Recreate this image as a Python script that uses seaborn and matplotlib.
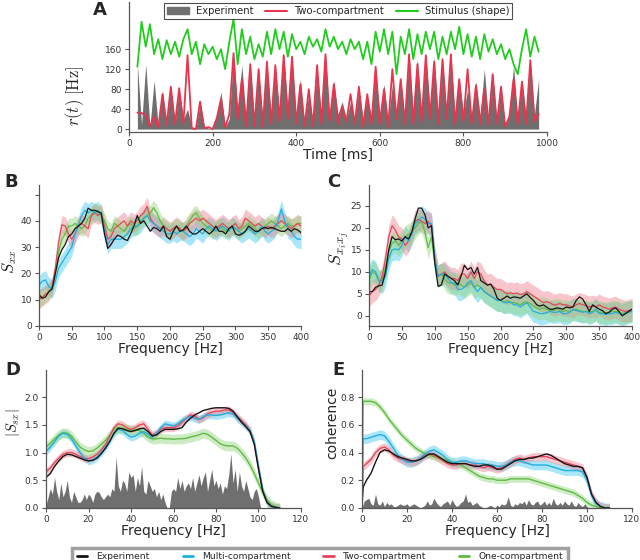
import numpy as np
import pandas as pd
import matplotlib
matplotlib.use("Agg")
import matplotlib.pyplot as plt
from matplotlib.lines import Line2D
from matplotlib.patches import Patch
import seaborn as sns

# ---------------- data: panel A (time course) ----------------
time_ms = np.arange(20, 990, 10)
rate_exp = [130, 10, 130, 5, 97, 5, 78, 10, 85, 10,
            80, 20, 40, 5, 0, 52, 5, 2, 0, 25,
            75, 5, 20, 150, 40, 128, 20, 130, 15, 120,
            20, 130, 25, 128, 30, 150, 40, 145, 25, 100,
            10, 72, 15, 120, 30, 150, 20, 98, 30, 55,
            20, 55, 15, 80, 20, 65, 25, 122, 30, 90,
            15, 90, 25, 100, 20, 150, 30, 140, 30, 150,
            40, 145, 20, 140, 30, 145, 20, 100, 30, 80,
            20, 95, 25, 120, 20, 110, 15, 85, 5, 30,
            128, 20, 100, 25, 137, 30, 100]
rate_two = [33, 32, 28, 5, 25, 3, 70, 8, 85, 10,
            82, 10, 148, 2, 0, 55, 2, 4, 0, 22,
            60, 3, 30, 152, 20, 100, 5, 130, 5, 120,
            5, 135, 10, 128, 15, 148, 20, 145, 10, 90,
            5, 80, 5, 128, 10, 150, 15, 90, 10, 45,
            15, 70, 10, 85, 5, 70, 10, 125, 10, 80,
            5, 120, 20, 100, 10, 150, 10, 130, 15, 148,
            20, 135, 10, 140, 20, 150, 10, 100, 15, 120,
            10, 88, 10, 80, 10, 110, 10, 85, 5, 25,
            100, 10, 95, 10, 138, 15, 30]
stimulus = [125, 215, 165, 210, 150, 180, 140, 178, 150, 175,
            145, 180, 200, 150, 175, 130, 170, 150, 165, 140,
            160, 120, 175, 220, 130, 200, 150, 185, 140, 170,
            145, 195, 150, 200, 160, 195, 145, 190, 160, 175,
            150, 185, 165, 180, 155, 200, 165, 185, 160, 175,
            150, 180, 160, 175, 140, 175, 130, 195, 155, 200,
            150, 195, 110, 185, 150, 200, 140, 190, 150, 195,
            160, 195, 140, 185, 150, 195, 160, 205, 150, 190,
            145, 185, 140, 190, 155, 180, 150, 170, 140, 160,
            130, 110, 160, 200, 145, 185, 155]

# ---------------- panel B: S_xx ----------------
freq_B = np.arange(0, 401, 5)
sxx_exp = [12, 10.5, 11, 13, 14, 20, 26, 29, 31, 34,
           35, 37, 38, 39, 41, 44.8, 44, 44, 43.5, 43,
           35, 29.5, 31, 33, 34.5, 34, 33, 32.5, 35, 38,
           42, 39, 40, 38, 36, 37.5, 37, 36, 38, 34,
           33, 36, 38, 36, 36.5, 38, 36, 35, 35, 36,
           37, 36, 35, 36, 38, 36, 36, 35, 37, 38,
           35, 34.5, 35, 36, 38, 37, 36, 36, 37, 37.5,
           37, 37.5, 37, 36.5, 36, 36, 37, 36, 37, 36.5,
           35.5]
sxx_multi = [15.5, 17, 17.5, 15, 14, 17, 22, 24, 26, 28,
             30, 35, 38, 42, 44, 43, 44, 43, 44, 42,
             36, 31, 33, 33, 33, 33, 34, 35, 37, 38,
             38, 39, 41, 42, 40, 39, 38, 37, 36, 35,
             35, 36, 35, 36, 36, 35, 34, 35, 37, 36,
             35, 37, 38, 37, 36, 37, 38, 37, 36, 38,
             37, 36, 35, 36, 37, 36, 35, 36, 38, 36,
             35, 36, 37, 40, 44.5, 40, 37, 36, 34, 33,
             33]
sxx_two = [10, 11, 12, 13, 15, 22, 32, 38.5, 38, 35,
           33, 35, 38, 39, 38, 37, 42, 43, 42, 43,
           38, 33, 34, 37, 38, 39, 40, 38, 40, 39,
           40, 42, 43, 45.5, 41, 39, 38, 37, 38, 37,
           36, 37, 38, 37, 36, 37, 39, 40, 41, 40,
           41, 40, 39, 38, 37, 38, 39, 38, 37, 38,
           39, 37, 38, 41, 40, 39, 38, 39, 38, 37,
           38, 37, 38, 39, 40, 39, 38, 37, 38, 39,
           38]
sxx_one = [10.5, 11, 12, 13, 15, 20, 28, 33, 35, 38,
           38, 39, 38, 37, 38, 41, 42, 44, 43, 42,
           40, 37, 36, 39, 38, 37, 36, 38, 39, 37,
           38, 40, 41, 42, 43, 45, 43, 40, 38, 37,
           36, 37, 38, 37, 36, 38, 40, 42, 43, 41,
           39, 38, 37, 36, 37, 38, 37, 36, 37, 38,
           37, 36, 37, 38, 39, 38, 37, 36, 37, 38,
           39, 40, 39, 38, 37, 38, 39, 38, 38, 39,
           39]

# ---------------- panel C: S_xixj ----------------
freq_C = np.arange(0, 401, 5)
sij_exp = [5.5, 5.5, 6.5, 6.8, 7, 10, 15, 18, 17.3, 17.5,
           17, 18, 17.5, 19, 22, 24.5, 24.5, 23, 20, 20.5,
           12, 6.7, 7, 9.5, 9, 8.5, 8, 7, 9, 11.5,
           10.5, 11, 9.5, 11, 8, 7.5, 7, 7.2, 6, 4,
           3.5, 4, 4.5, 4, 4.3, 4.2, 4, 4.5, 5, 4.2,
           3.5, 2.5, 2.2, 2.5, 2, 1.5, 1.5, 1.8, 1.7, 1.5,
           2, 1.8, 2, 3.5, 4.3, 3.8, 2.5, 1, 2.5, 2,
           1.5, 1.2, 0.5, 0.8, 1.5, 1.8, 1, 0, 0.5, 1,
           1.5]
sij_multi = [9, 10.5, 10, 8, 7.5, 9, 13, 15, 15.2, 15,
             16, 18, 17, 18.5, 21, 21.5, 22.5, 22, 21, 21,
             13, 9, 9.5, 9.5, 8.5, 7.5, 7.5, 6, 6, 6.5,
             7.5, 8, 6.5, 5.5, 6.5, 5.5, 5, 4.5, 4, 3.5,
             3.5, 3, 3, 3.2, 2.5, 2.5, 2, 2.5, 3, 2,
             1, 0.8, 0.5, 0.5, 0.7, 1, 0.8, 0.8, 1, 0.5,
             0.5, 0.8, 1.5, 1.2, 1, 0.8, 1, 0.5, 0.8, 1.5,
             0.5, 0.5, 0.3, 0.5, 0.5, 0.8, 0.5, 0.2, 0.5, 0.8,
             1]
sij_two = [4.5, 5.5, 6, 7, 9, 13, 18, 20.5, 19.5, 18,
           17.5, 16, 17, 19, 21.5, 22, 21.5, 21, 21.5, 20.5,
           13, 9, 9.5, 10, 9, 8.5, 8.5, 8, 9.5, 9.5,
           8.5, 10, 8.5, 10, 9.5, 8, 7, 7.2, 6.5, 6,
           6, 5.5, 5, 5.2, 5, 5.2, 4.8, 5, 5.5, 5,
           4.5, 4, 3.5, 3, 3.2, 3, 2.5, 2.5, 2.8, 2.5,
           2.5, 2.2, 2, 2.5, 2.8, 2.5, 2.3, 2, 2.2, 2,
           2.5, 2, 1.8, 1.5, 1.8, 2, 1.5, 1.2, 1, 1.2,
           1.5]
sij_one = [8, 10, 9.5, 8, 8, 11, 14.5, 16.5, 17, 16,
           17, 18, 18.5, 19, 20, 21, 21.5, 19, 15.5, 18,
           12, 9, 9.5, 8.5, 7.5, 7.5, 7, 7.5, 7, 6.5,
           7, 7.5, 6.5, 7, 6.5, 5.5, 5, 4.5, 4, 3.5,
           3.5, 3, 3.5, 3, 3, 2.8, 2.5, 3, 3.2, 2.8,
           2.2, 1.8, 1.5, 1.8, 1.5, 1.2, 1.2, 1.5, 1.3, 1,
           1.2, 1, 1.3, 1.5, 1.2, 1, 1, 0.8, 1, 1.2,
           0.8, 0.8, 0.6, 0.8, 1, 1, 0.8, 0.5, 0.8, 1,
           1]

# ---------------- panel D: |S_sx| ----------------
freq_D = np.arange(0, 111, 2)
ssx_exp = [0.55, 0.62, 0.75, 0.85, 0.93, 0.97, 0.96, 0.93, 0.9, 0.87,
           0.85, 0.86, 0.9, 0.98, 1.08, 1.2, 1.35, 1.44, 1.43, 1.4,
           1.38, 1.4, 1.43, 1.44, 1.38, 1.3, 1.32, 1.38, 1.42, 1.42,
           1.42, 1.43, 1.45, 1.55, 1.62, 1.68, 1.72, 1.76, 1.78, 1.8,
           1.81, 1.81, 1.81, 1.8, 1.75, 1.65, 1.55, 1.47, 1.38, 1.15,
           0.7, 0.3, 0.1, 0.03, 0.01, 0.0]
ssx_multi = [1.02, 1.1, 1.2, 1.3, 1.35, 1.33, 1.25, 1.12, 1.0, 0.9,
             0.85, 0.87, 0.92, 1.0, 1.1, 1.22, 1.35, 1.42, 1.4, 1.33,
             1.28, 1.3, 1.35, 1.38, 1.33, 1.28, 1.35, 1.45, 1.52, 1.5,
             1.48, 1.52, 1.58, 1.62, 1.65, 1.62, 1.6, 1.65, 1.68, 1.68,
             1.67, 1.68, 1.7, 1.72, 1.7, 1.62, 1.55, 1.48, 1.4, 1.2,
             0.75, 0.32, 0.1, 0.03, 0.01, 0.0]
ssx_two = [0.65, 0.72, 0.82, 0.9, 0.97, 1.0, 1.0, 0.97, 0.93, 0.9,
           0.89, 0.92, 0.97, 1.05, 1.15, 1.3, 1.45, 1.52, 1.5, 1.45,
           1.42, 1.45, 1.5, 1.52, 1.42, 1.32, 1.35, 1.42, 1.45, 1.45,
           1.45, 1.48, 1.55, 1.62, 1.68, 1.66, 1.6, 1.63, 1.7, 1.73,
           1.75, 1.75, 1.77, 1.77, 1.73, 1.65, 1.58, 1.5, 1.4, 1.18,
           0.72, 0.3, 0.1, 0.03, 0.01, 0.0]
ssx_one = [1.1, 1.17, 1.25, 1.32, 1.36, 1.35, 1.3, 1.2, 1.1, 1.05,
           1.02, 1.03, 1.08, 1.15, 1.22, 1.32, 1.42, 1.45, 1.44, 1.42,
           1.4, 1.41, 1.4, 1.35, 1.28, 1.25, 1.25, 1.26, 1.25, 1.25,
           1.24, 1.25, 1.25, 1.26, 1.28, 1.3, 1.32, 1.35, 1.33, 1.28,
           1.22, 1.16, 1.13, 1.12, 1.12, 1.08, 1.0, 0.9, 0.78, 0.62,
           0.45, 0.28, 0.15, 0.06, 0.02, 0.0]
freq_gray = np.arange(0, 102, 1)
ssx_gray = [0.05, 0.2, 0.35, 0.25, 0.55, 0.3, 0.15, 0.45, 0.2, 0.3,
            0.5, 0.2, 0.1, 0.3, 0.2, 0.1, 0.1, 0.15, 0.25, 0.15,
            0.25, 0.2, 0.1, 0.25, 0.3, 0.28, 0.2, 0.15, 0.2, 0.25,
            0.2, 0.35, 0.3, 0.92, 0.4, 0.3, 0.5, 0.45, 0.3, 0.65,
            0.55, 0.6, 0.3, 0.55, 0.4, 0.75, 0.3, 0.25, 0.5, 0.4,
            0.3, 0.35, 0.2, 0.3, 0.15, 0.25, 0.1, 0.0, 0.0, 0.3,
            0.35, 0.3, 0.55, 0.35, 0.5, 0.3, 0.4, 0.45, 0.35, 0.55,
            0.3, 0.45, 0.6, 0.4, 0.55, 0.65, 0.3, 0.5, 0.7, 0.4,
            0.5, 0.35, 0.45, 0.25, 0.4, 0.35, 0.6, 0.98, 0.45, 0.7,
            0.3, 0.65, 0.4, 0.3, 0.5, 0.35, 0.2, 0.15, 0.3, 0.35,
            0.2, 0.0]

# ---------------- panel E: coherence ----------------
freq_E = np.concatenate([[0, 0.5], np.arange(2, 111, 2)])
coh_exp = [0, 0.15,
           0.2, 0.25, 0.33, 0.4, 0.42, 0.41, 0.39, 0.37, 0.36, 0.35,
           0.34, 0.34, 0.35, 0.37, 0.39, 0.39, 0.37, 0.35, 0.33, 0.32,
           0.32, 0.32, 0.32, 0.31, 0.3, 0.3, 0.31, 0.31, 0.3, 0.28,
           0.28, 0.3, 0.32, 0.34, 0.35, 0.35, 0.36, 0.36, 0.37, 0.38,
           0.39, 0.38, 0.36, 0.34, 0.32, 0.31, 0.3, 0.3, 0.29, 0.22,
           0.1, 0.04, 0.01, 0.0, 0.0]
coh_multi = [0, 0.5,
             0.5, 0.51, 0.52, 0.53, 0.52, 0.48, 0.43, 0.38, 0.35, 0.33,
             0.33, 0.34, 0.36, 0.39, 0.41, 0.42, 0.4, 0.38, 0.35, 0.33,
             0.33, 0.34, 0.34, 0.33, 0.32, 0.32, 0.32, 0.31, 0.31, 0.3,
             0.3, 0.31, 0.33, 0.34, 0.34, 0.33, 0.32, 0.31, 0.31, 0.31,
             0.31, 0.3, 0.29, 0.28, 0.27, 0.27, 0.27, 0.27, 0.26, 0.2,
             0.09, 0.03, 0.01, 0.0, 0.0]
coh_two = [0, 0.3,
           0.32, 0.35, 0.4, 0.43, 0.44, 0.42, 0.38, 0.36, 0.35, 0.34,
           0.33, 0.34, 0.36, 0.38, 0.39, 0.38, 0.36, 0.34, 0.32, 0.31,
           0.31, 0.32, 0.32, 0.31, 0.31, 0.3, 0.29, 0.3, 0.29, 0.28,
           0.29, 0.31, 0.33, 0.35, 0.36, 0.35, 0.36, 0.37, 0.37, 0.37,
           0.37, 0.36, 0.35, 0.34, 0.33, 0.32, 0.31, 0.3, 0.29, 0.22,
           0.1, 0.04, 0.01, 0.0, 0.0]
coh_one = [0, 0.77,
           0.77, 0.77, 0.76, 0.73, 0.69, 0.64, 0.6, 0.56, 0.52, 0.49,
           0.46, 0.43, 0.41, 0.39, 0.38, 0.37, 0.36, 0.35, 0.34, 0.33,
           0.32, 0.31, 0.29, 0.27, 0.25, 0.23, 0.22, 0.21, 0.21, 0.2,
           0.2, 0.2, 0.21, 0.21, 0.21, 0.21, 0.21, 0.2, 0.19, 0.18,
           0.17, 0.16, 0.15, 0.14, 0.13, 0.12, 0.11, 0.09, 0.07, 0.04,
           0.02, 0.01, 0.0, 0.0, 0.0]
coh_gray = [0.0, 0.05, 0.06, 0.07, 0.03, 0.02, 0.1, 0.03, 0.02, 0.05,
            0.01, 0.04, 0.02, 0.03, 0.01, 0.01, 0.02, 0.03, 0.02, 0.02,
            0.03, 0.01, 0.02, 0.03, 0.02, 0.01, 0.0, 0.01, 0.02, 0.05,
            0.02, 0.03, 0.07, 0.04, 0.02, 0.01, 0.03, 0.04, 0.05, 0.02,
            0.06, 0.03, 0.01, 0.02, 0.04, 0.05, 0.1, 0.04, 0.05, 0.02,
            0.03, 0.04, 0.02, 0.01, 0.0, 0.0, 0.01, 0.02, 0.01, 0.0,
            0.02, 0.01, 0.03, 0.02, 0.03, 0.08, 0.02, 0.01, 0.03, 0.02,
            0.04, 0.03, 0.05, 0.02, 0.06, 0.03, 0.02, 0.04, 0.05, 0.02,
            0.03, 0.05, 0.02, 0.04, 0.02, 0.07, 0.03, 0.02, 0.04, 0.02,
            0.05, 0.03, 0.02, 0.05, 0.02, 0.01, 0.04, 0.02, 0.01, 0.03,
            0.01, 0.0]

# band half widths (multi, two, one)
band_B = [3.5, 3.5, 3.0]
band_C = [2.5, 2.5, 2.5]
band_D = [0.07, 0.07, 0.09]
band_E = [0.035, 0.03, 0.025]

labels = ["Experiment", "Multi-compartment", "Two-compartment", "One-compartment"]
line_cols = ["#151515", "#22aee0", "#e4475c", "#62bb45"]
fill_cols = ["#151515", "#3fc8f0", "#ee7f8c", "#90d67a"]
gray = "#6f6f6f"

# ---------------- style ----------------
sns.set_style("ticks")
plt.rcParams["font.family"] = ["DejaVu Sans"]
plt.rcParams["mathtext.fontset"] = "cm"
plt.rcParams["axes.edgecolor"] = "#555555"
plt.rcParams["xtick.color"] = "#555555"
plt.rcParams["ytick.color"] = "#555555"
plt.rcParams["xtick.labelcolor"] = "#333333"
plt.rcParams["ytick.labelcolor"] = "#333333"

fig = plt.figure(figsize=(6.4, 5.6), dpi=100)

def style(ax):
    sns.despine(ax=ax)
    ax.tick_params(labelsize=6.5, length=3, width=0.8, pad=2)
    for s in ["left", "bottom"]:
        ax.spines[s].set_linewidth(0.9)

def spectra(ax, x, series, bands, lw=0.9):
    for i in (1, 2, 3):
        y = np.array(series[i])
        ax.fill_between(x, y - bands[i - 1], y + bands[i - 1],
                        color=fill_cols[i], alpha=0.45, lw=0)
    for i in (3, 2, 1, 0):
        sns.lineplot(x=x, y=series[i], ax=ax, color=line_cols[i], lw=lw, legend=False)

# ---- A ----
axA = fig.add_axes([0.2016, 0.765, 0.6531, 0.231])
axA.fill_between(time_ms, 0, rate_exp, color=gray, lw=0)
sns.lineplot(x=time_ms, y=rate_two, ax=axA, color="#e8344d", lw=1.3, legend=False)
sns.lineplot(x=time_ms, y=stimulus, ax=axA, color="#22cc1e", lw=1.3, legend=False)
axA.set_xlim(0, 1000)
axA.set_ylim(-5, 254)
axA.set_yticks([0, 40, 80, 120, 160])
axA.set_xticks([0, 200, 400, 600, 800, 1000])
style(axA)
axA.set_xlabel("Time [ms]", fontsize=10, labelpad=0)
axA.set_ylabel(r"$r(t)\ [\mathrm{Hz}]$", fontsize=12)
axA.yaxis.set_label_coords(-0.103, 0.28)
handlesA = [Patch(color=gray), Line2D([], [], color="#e8344d", lw=1.5),
            Line2D([], [], color="#22cc1e", lw=1.5)]
legA = axA.legend(handlesA, ["Experiment", "Two-compartment", "Stimulus (shape)"],
                  loc="upper center", bbox_to_anchor=(0.5, 1.0), ncol=3, fontsize=7.2,
                  frameon=True, fancybox=False, handlelength=2.2, handletextpad=0.7,
                  columnspacing=1.2, borderpad=0.3, borderaxespad=0.1)
legA.get_frame().set_edgecolor("#222222")
legA.get_frame().set_linewidth(0.8)

# ---- B ----
axB = fig.add_axes([0.0609, 0.418, 0.4094, 0.252])
spectra(axB, freq_B, [sxx_exp, sxx_multi, sxx_two, sxx_one], band_B)
axB.set_xlim(0, 400)
axB.set_ylim(0, 53.7)
axB.set_yticks([0, 10, 20, 30, 40, 50])
axB.set_yticklabels(["0", "10", "20", "30", "40", ""])
axB.set_xticks(range(0, 401, 50))
style(axB)
axB.set_xlabel("Frequency [Hz]", fontsize=10, labelpad=0)
axB.set_ylabel(r"$S_{xx}$", fontsize=12)
axB.yaxis.set_label_coords(-0.075, 0.46)

# ---- C ----
axC = fig.add_axes([0.5766, 0.418, 0.411, 0.252])
spectra(axC, freq_C, [sij_exp, sij_multi, sij_two, sij_one], band_C)
axC.set_xlim(0, 400)
axC.set_ylim(-2.3, 29.8)
axC.set_yticks([0, 5, 10, 15, 20, 25])
axC.set_xticks(range(0, 401, 50))
style(axC)
axC.set_xlabel("Frequency [Hz]", fontsize=10, labelpad=0)
axC.set_ylabel(r"$S_{x_i x_j}$", fontsize=13)
axC.yaxis.set_label_coords(-0.07, 0.55)

# ---- D ----
axD = fig.add_axes([0.0719, 0.093, 0.3984, 0.246])
axD.fill_between(freq_gray, 0, ssx_gray, color=gray, lw=0)
spectra(axD, freq_D, [ssx_exp, ssx_multi, ssx_two, ssx_one], band_D, lw=1.0)
axD.set_xlim(0, 120)
axD.set_ylim(0, 2.49)
axD.set_yticks([0, 0.5, 1.0, 1.5, 2.0])
axD.set_yticklabels(["0.0", "0.5", "1.0", "1.5", "2.0"])
axD.set_xticks(range(0, 121, 20))
style(axD)
axD.set_xlabel("Frequency [Hz]", fontsize=10, labelpad=0)
axD.set_ylabel(r"$|S_{sx}|$", fontsize=10.5)
axD.yaxis.set_label_coords(-0.096, 0.62)

# ---- E ----
axE = fig.add_axes([0.5656, 0.093, 0.4219, 0.246])
axE.fill_between(freq_gray, 0, coh_gray, color=gray, lw=0)
spectra(axE, freq_E, [coh_exp, coh_multi, coh_two, coh_one], band_E, lw=1.0)
axE.set_xlim(0, 120)
axE.set_ylim(0, 0.995)
axE.set_yticks([0, 0.2, 0.4, 0.6, 0.8])
axE.set_yticklabels(["0.0", "0.2", "0.4", "0.6", "0.8"])
axE.set_xticks(range(0, 121, 20))
style(axE)
axE.set_xlabel("Frequency [Hz]", fontsize=10, labelpad=0)
axE.set_ylabel("coherence", fontsize=10)
axE.yaxis.set_label_coords(-0.085, 0.62)

# ---- panel letters ----
for letter, (px, py) in zip("ABCDE", [(100, 10), (11, 182), (334, 182), (13, 370), (338, 370)]):
    fig.text(px / 640, 1 - py / 560, letter, fontsize=13, fontweight="bold",
             ha="center", va="center")

# ---- bottom legend ----
handles = [Line2D([], [], color=c, lw=2) for c in line_cols]
leg = fig.legend(handles, labels, loc="upper center", bbox_to_anchor=(0.5, 1 - 543 / 560),
                 ncol=4, fontsize=6.6, frameon=True, fancybox=False, handlelength=1.1,
                 handletextpad=1.0, columnspacing=3.6, borderpad=0.5)
leg.get_frame().set_edgecolor("#8a8a8a")
leg.get_frame().set_linewidth(2.5)

fig.savefig("out.png", dpi=100)
